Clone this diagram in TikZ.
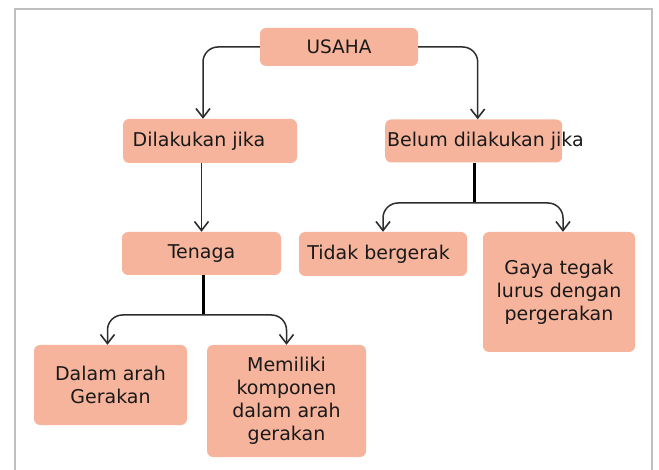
\documentclass[tikz,border=0pt]{standalone}
\usepackage{fontspec}
\setmainfont{DejaVu Sans}
\usetikzlibrary{arrows.meta}
\definecolor{boxfill}{RGB}{247,180,156}
\definecolor{linegray}{RGB}{45,45,45}
\begin{document}
\begin{tikzpicture}[x=1pt, y=-1pt,
  bx/.style={rectangle, rounded corners=6pt, fill=boxfill, inner sep=2pt, align=center,
    font=\fontsize{19}{23}\selectfont, text=black!90},
  ar/.style={linegray, line width=1.5pt, rounded corners=15pt, -{Straight Barb[length=9pt,width=14pt,line width=1.6pt]}},
  st/.style={black, line width=3pt}]
\useasboundingbox (0,0) rectangle (659,470);
% frame
\draw[black!25, line width=1.8pt] (15,9) rectangle (652,500);
% top level
\node[bx, minimum width=158pt, minimum height=38pt, font=\fontsize{18.5}{22}\selectfont] (usaha) at (339,47) {USAHA};
\node[bx, minimum width=174pt, minimum height=44pt] (dilakukan) at (210,141) {Dilakukan jika\hspace{22pt}};
\node[bx, minimum width=177pt, minimum height=43pt, anchor=west] (belum) at (385,141) {\makebox[173pt][l]{Belum dilakukan jika}};
% second level
\node[bx, minimum width=159pt, minimum height=43pt] (tenaga) at (201.5,253.5) {Tenaga};
\node[bx, minimum width=168pt, minimum height=44pt] (tidak) at (383,254) {Tidak bergerak\hspace{9pt}};
\node[bx, minimum width=152pt, minimum height=120pt] (gaya) at (559,292) {Gaya tegak\\lurus dengan\\pergerakan};
% third level
\node[bx, minimum width=153pt, minimum height=80pt] (dalam) at (110.5,385) {Dalam arah\\Gerakan};
\node[bx, minimum width=159pt, minimum height=112pt] (memiliki) at (286.5,401) {Memiliki\\komponen\\dalam arah\\gerakan};
% connectors
\draw[ar] (usaha.west) -| ([xshift=-7pt]dilakukan.north);
\draw[ar] (usaha.east) -| ([xshift=4pt]belum.north);
\draw[ar] (tenaga.north |- dilakukan.south) -- (tenaga.north);
\coordinate (bj) at (474,203);
\draw[st] (bj |- belum.south) -- (bj);
\draw[ar] (bj) -| (tidak.north);
\draw[ar] (bj) -| ([xshift=4pt]gaya.north);
\coordinate (tj) at (203,315);
\draw[st] (tj |- tenaga.south) -- (tj);
\draw[ar] (tj) -| ([xshift=-3pt]dalam.north);
\draw[ar] (tj) -| (memiliki.north);
\end{tikzpicture}
\end{document}
